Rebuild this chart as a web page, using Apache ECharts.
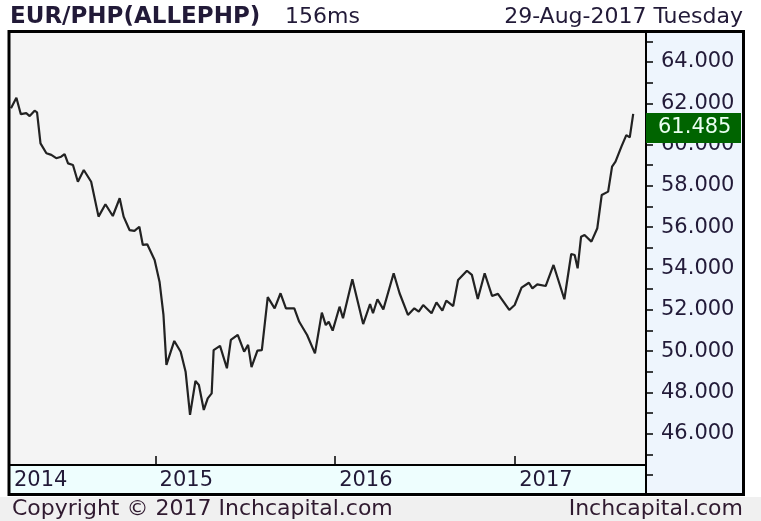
<!DOCTYPE html>
<html>
<head>
<meta charset="utf-8">
<title>EUR/PHP</title>
<script src="https://cdn.jsdelivr.net/npm/echarts@6/dist/echarts.min.js"></script>
<style>
  html, body { margin: 0; padding: 0; background: #fff; }
  #lineChart { width: 761px; height: 521px; }
</style>
</head>
<body>
<div id="lineChart"></div>
<script>
// EUR/PHP weekly-ish closes
var dates = [
  '2014-03-13','2014-03-24','2014-04-02','2014-04-13','2014-04-20','2014-04-30','2014-05-05','2014-05-12',
  '2014-05-24','2014-06-03','2014-06-13','2014-06-23','2014-06-30','2014-07-07','2014-07-17','2014-07-27',
  '2014-08-08','2014-08-23','2014-09-07','2014-09-21','2014-10-06','2014-10-20','2014-10-28','2014-11-09',
  '2014-11-19','2014-11-29','2014-12-06','2014-12-15','2014-12-30',
  '2015-01-09','2015-01-17','2015-01-23','2015-02-08','2015-02-21','2015-03-03','2015-03-12','2015-03-23',
  '2015-03-30','2015-04-09','2015-04-17','2015-04-25','2015-04-29','2015-05-12','2015-05-26','2015-06-03',
  '2015-06-17','2015-06-30','2015-07-08','2015-07-15','2015-07-27','2015-08-05','2015-08-17','2015-08-31',
  '2015-09-12','2015-09-23','2015-10-10','2015-10-20','2015-11-05','2015-11-21','2015-12-05','2015-12-13',
  '2015-12-19','2015-12-27',
  '2016-01-10','2016-01-17','2016-02-05','2016-02-27','2016-03-12','2016-03-18','2016-03-27','2016-04-08',
  '2016-04-29','2016-05-11','2016-05-28','2016-06-10','2016-06-19','2016-06-28','2016-07-15','2016-07-25',
  '2016-08-06','2016-08-14','2016-08-28','2016-09-07','2016-09-25','2016-10-05','2016-10-17','2016-10-31',
  '2016-11-15','2016-11-27','2016-12-20','2016-12-31',
  '2017-01-14','2017-01-29','2017-02-05','2017-02-15','2017-03-04','2017-03-20','2017-04-11','2017-04-25',
  '2017-05-02','2017-05-08','2017-05-15','2017-05-22','2017-06-05','2017-06-17','2017-06-26','2017-07-09',
  '2017-07-17','2017-07-24','2017-08-05','2017-08-15','2017-08-22','2017-08-29'
];
var rates = [
  61.76, 62.27, 61.47, 61.52, 61.38, 61.64, 61.56, 60.06,
  59.58, 59.50, 59.34, 59.41, 59.54, 59.09, 59.01, 58.20,
  58.77, 58.20, 56.51, 57.11, 56.54, 57.40, 56.51, 55.86,
  55.82, 56.02, 55.14, 55.17, 54.41,
  53.36, 51.75, 49.33, 50.49, 49.97, 49.00, 46.91, 48.55,
  48.36, 47.15, 47.71, 47.95, 50.05, 50.25, 49.17, 50.54,
  50.78, 49.97, 50.30, 49.22, 50.02, 50.05, 52.61, 52.07,
  52.80, 52.07, 52.07, 51.42, 50.78, 49.89, 51.86, 51.26,
  51.42, 50.99,
  52.15, 51.59, 53.48, 51.31, 52.28, 51.83, 52.51, 52.02,
  53.77, 52.80, 51.75, 52.07, 51.91, 52.23, 51.83, 52.36,
  51.96, 52.44, 52.18, 53.44, 53.89, 53.69, 52.52, 53.77,
  52.67, 52.77, 51.99, 52.23,
  53.07, 53.31, 53.04, 53.23, 53.15, 54.17, 52.51, 54.70,
  54.65, 54.01, 55.54, 55.62, 55.30, 55.95, 57.56, 57.72,
  58.93, 59.17, 59.90, 60.46, 60.35, 61.485
];
var yearTicks = ['2015-01-01', '2016-01-01', '2017-01-01'];
var firstDay = '2014-03-11';
var lastDay = '2017-09-24';
var priceLabels = [46, 48, 50, 52, 54, 56, 58, 60, 62, 64];
var priceTicks = [43, 44, 45, 46, 47, 48, 49, 50, 51, 52, 53, 54, 55, 56, 57, 58, 59, 60, 61, 62, 63, 64, 65];
var lastPrice = '61.485';

window.onload = function () {
  initLineChart();
};

function toTime(s) {
  return echarts.number.parseDate(s).getTime();
}

function initLineChart() {
  var dom = document.getElementById("lineChart");
  var myChart = echarts.init(dom, null, {renderer: 'canvas'});
  var font = 'DejaVu Sans, Verdana, sans-serif';
  var txt = '#221a38';

  var seriesData = [];
  for (var i = 0; i < dates.length; i++) {
    seriesData.push([toTime(dates[i]), rates[i]]);
  }
  var xTicks = yearTicks.map(toTime);
  var xLabels = [toTime(firstDay)].concat(xTicks);

  var option = {
    backgroundColor: '#fff',
    animation: false,
    grid: {left: 10, right: 115, top: 32, bottom: 27},
    xAxis: {
      type: 'value',
      min: toTime(firstDay),
      max: toTime(lastDay),
      offset: -29,
      z: 5,
      axisLine: {lineStyle: {color: '#000', width: 2}},
      axisTick: {inside: true, length: 9, customValues: xTicks, lineStyle: {color: '#000', width: 1.5}},
      axisLabel: {
        customValues: xLabels,
        align: 'left',
        padding: [0, 0, 0, 4],
        margin: 5,
        color: txt,
        fontFamily: font,
        fontSize: 21,
        formatter: function (v) { return '' + new Date(v).getFullYear(); }
      },
      splitLine: {show: false}
    },
    yAxis: {
      type: 'value',
      position: 'right',
      min: 43.08,
      max: 65.45,
      z: 5,
      axisLine: {show: true, lineStyle: {color: '#000', width: 2}},
      axisTick: {show: true, length: 7, customValues: priceTicks, lineStyle: {color: '#000', width: 1.5}},
      axisLabel: {
        customValues: priceLabels,
        margin: 15,
        color: txt,
        fontFamily: font,
        fontSize: 21,
        formatter: function (v) { return v.toFixed(3); }
      },
      splitLine: {show: false}
    },
    graphic: [
      {type: 'rect', z: 0, shape: {x: 10, y: 32, width: 636, height: 433}, style: {fill: '#f4f4f4'}},
      {type: 'rect', z: 0, shape: {x: 10, y: 465, width: 636, height: 29}, style: {fill: '#eefefe'}},
      {type: 'rect', z: 0, shape: {x: 646, y: 32, width: 97, height: 462}, style: {fill: '#eef5fd'}},
      {type: 'rect', z: 0, shape: {x: 0, y: 497, width: 761, height: 24}, style: {fill: '#f0f0f0'}},
      {type: 'rect', z: 20, shape: {x: 9, y: 31.5, width: 734.5, height: 463}, style: {fill: null, stroke: '#000', lineWidth: 3}},
      {type: 'rect', z: 20, shape: {x: 646, y: 113, width: 95, height: 30}, style: {fill: '#006400'}},
      {type: 'text', z: 21, style: {x: 658, y: 128, text: lastPrice, fill: '#eafff0', font: '21px ' + font, textVerticalAlign: 'middle'}},
      {type: 'text', z: 20, style: {x: 10, y: 17, text: 'EUR/PHP(ALLEPHP)', fill: txt, font: 'bold 23px ' + font, textVerticalAlign: 'middle'}},
      {type: 'text', z: 20, style: {x: 285, y: 17, text: '156ms', fill: txt, font: '22px ' + font, textVerticalAlign: 'middle'}},
      {type: 'text', z: 20, style: {x: 743, y: 17, text: '29-Aug-2017 Tuesday', fill: txt, font: '22px ' + font, textAlign: 'right', textVerticalAlign: 'middle'}},
      {type: 'text', z: 20, style: {x: 12, y: 509, text: 'Copyright \u00a9 2017 Inchcapital.com', fill: '#301a30', font: '22px ' + font, textVerticalAlign: 'middle'}},
      {type: 'text', z: 20, style: {x: 743, y: 509, text: 'Inchcapital.com', fill: '#301a30', font: '22px ' + font, textAlign: 'right', textVerticalAlign: 'middle'}}
    ],
    series: [
      {
        name: 'EUR/PHP',
        type: 'line',
        z: 6,
        showSymbol: false,
        symbol: 'none',
        lineStyle: {color: '#222', width: 2.2},
        data: seriesData
      }
    ]
  };

  if (option && typeof option === "object") {
    myChart.setOption(option, true);
  }
}
</script>
</body>
</html>
